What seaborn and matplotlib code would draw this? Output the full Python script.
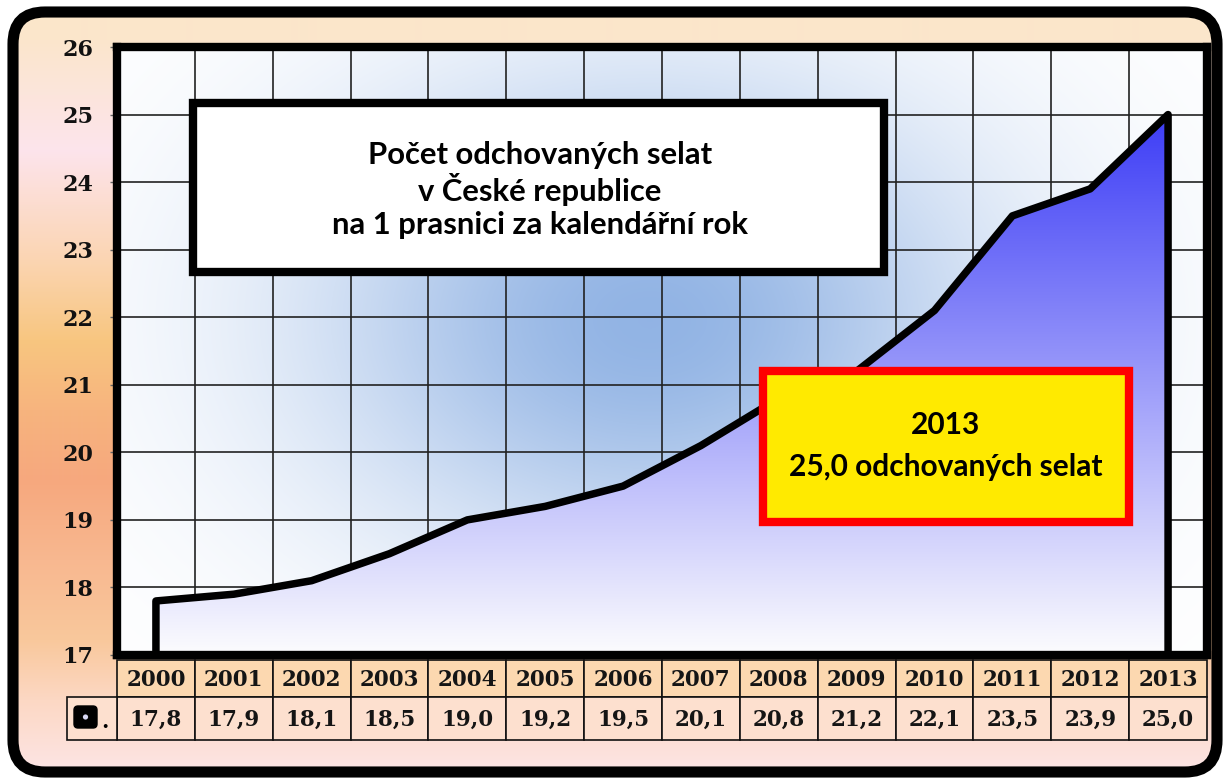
import numpy as np
import matplotlib
matplotlib.use("Agg")
import matplotlib.pyplot as plt
import seaborn as sns
from matplotlib.patches import Rectangle, FancyBboxPatch, Circle
from matplotlib.colors import to_rgb

# ---------------- data ----------------
years = [2000, 2001, 2002, 2003, 2004, 2005, 2006, 2007, 2008, 2009, 2010, 2011, 2012, 2013]
values = [17.8, 17.9, 18.1, 18.5, 19.0, 19.2, 19.5, 20.1, 20.8, 21.2, 22.1, 23.5, 23.9, 25.0]
y_ticks = [17, 18, 19, 20, 21, 22, 23, 24, 25, 26]
title_lines = ["Počet odchovaných selat", "v České republice", "na 1 prasnici za kalendářní rok"]
highlight_unit = "odchovaných selat"

def fmt(v):
    return f"{v:.1f}".replace(".", ",")

W, H = 1223, 778
fig = plt.figure(figsize=(W / 100, H / 100), dpi=100)
fig.patch.set_facecolor("white")

SERIF = "DejaVu Serif"
SANS = "Lato"

# ---------------- background (rounded frame with gradient) ----------------
bg = fig.add_axes([0, 0, 1, 1], zorder=0)
bg.set_xlim(0, W)
bg.set_ylim(H, 0)
bg.axis("off")

stops_y = [0, 40, 150, 260, 340, 410, 480, 560, 640, 700, 778]
stops_c = ["#fbe6c8", "#fbe6cc", "#fde4ec", "#fbd5b2", "#f8c680", "#f7b47e", "#f6a87e",
           "#f8b890", "#f9c89c", "#fcd8c4", "#fde6e8"]
yy = np.arange(H)
cols = np.array([to_rgb(c) for c in stops_c])
grad = np.stack([np.interp(yy, stops_y, cols[:, k]) for k in range(3)], axis=-1)
grad = np.repeat(grad[:, None, :], 2, axis=1)

frame = FancyBboxPatch((13, 12), 1204, 760, boxstyle="round,pad=0,rounding_size=32",
                       facecolor="none", edgecolor="black", linewidth=8, zorder=3)
bg.add_patch(frame)
im = bg.imshow(grad, extent=(0, W, H, 0), aspect="auto", interpolation="bilinear", zorder=1)
im.set_clip_path(frame)

# ---------------- main plot ----------------
L, R, T, B = 117, 1207, 47, 655
ax = fig.add_axes([L / W, 1 - B / H, (R - L) / W, (B - T) / H], zorder=2)
n = len(years)
x_idx = list(range(n))
ax.set_xlim(-0.5, n - 0.5)
ax.set_ylim(y_ticks[0], y_ticks[-1])

# soft blue blob background
gx = np.linspace(-0.5, n - 0.5, 500)
gy = np.linspace(y_ticks[0], y_ticks[-1], 400)
GX, GY = np.meshgrid(gx, gy)
PX = L + (GX + 0.5) / n * (R - L)
PY = B - (GY - y_ticks[0]) / (y_ticks[-1] - y_ticks[0]) * (B - T)
w = 0.95 * np.exp(-((PX - 650) / 340) ** 2 - ((PY - 320) / 240) ** 2)
blue = np.array([0.55, 0.69, 0.89])
blob = (1 - w[..., None]) * 1.0 + w[..., None] * blue
ax.imshow(blob, extent=(-0.5, n - 0.5, y_ticks[0], y_ticks[-1]), origin="lower",
          aspect="auto", zorder=0.5, interpolation="bilinear")

# grid
ax.set_xticks(np.arange(-0.5, n, 1.0))
ax.set_yticks(y_ticks)
ax.grid(True, color="#222222", linewidth=1.2, zorder=1.5)
ax.tick_params(axis="x", length=0, labelbottom=False)
ax.tick_params(axis="y", direction="out", length=5, width=1, color="#666666", pad=12,
               labelsize=16)
for lab in ax.get_yticklabels():
    lab.set_fontfamily(SERIF)
    lab.set_fontweight("bold")
    lab.set_color("#111111")

# gradient area under the line
poly = ax.fill_between(x_idx, values, y_ticks[0], color="none", linewidth=0)
t = np.clip((gy - y_ticks[0]) / 8.0, 0, 1)
area = np.zeros((len(gy), 2, 3))
area[:, :, 0] = (0.99 - 0.75 * t)[:, None]
area[:, :, 1] = (0.99 - 0.75 * t)[:, None]
area[:, :, 2] = (0.995 - 0.03 * t)[:, None]
aim = ax.imshow(area, extent=(-0.5, n - 0.5, y_ticks[0], y_ticks[-1]), origin="lower",
                aspect="auto", zorder=2, interpolation="bilinear")
aim.set_clip_path(poly.get_paths()[0], ax.transData)

# black outline line (drop at both ends)
xs_line = [x_idx[0]] + x_idx + [x_idx[-1]]
ys_line = [y_ticks[0]] + values + [y_ticks[0]]
sns.lineplot(x=xs_line, y=ys_line, sort=False, estimator=None, color="black",
             linewidth=5.4, ax=ax, zorder=3)
for ln in ax.lines:
    ln.set_solid_joinstyle("round")
    ln.set_solid_capstyle("butt")
ax.set_xlabel("")
ax.set_ylabel("")

for sp in ax.spines.values():
    sp.set_linewidth(6)
    sp.set_color("black")
    sp.set_zorder(4)

# ---------------- overlay (boxes + table) ----------------
ov = fig.add_axes([0, 0, 1, 1], zorder=5)
ov.set_xlim(0, W)
ov.set_ylim(H, 0)
ov.axis("off")
ov.patch.set_alpha(0)

renderer = fig.canvas.get_renderer()

def fit_size(texts, target_w, start=20):
    sizes = []
    for tx in texts:
        tx.set_fontsize(start)
        bb = tx.get_window_extent(renderer)
        sizes.append(start * target_w / bb.width)
    return sizes

# title box
ov.add_patch(Rectangle((193, 103), 691, 169, facecolor="white", edgecolor="black",
                       linewidth=6, zorder=1))
title_y = [155, 189, 225]
tts = [ov.text(540, yv, s, ha="center", va="center", fontfamily=SANS, fontweight="bold",
               color="black", zorder=2) for s, yv in zip(title_lines, title_y)]
sz = fit_size([tts[2]], 416)[0]
for tx in tts:
    tx.set_fontsize(sz)

# highlight box
ov.add_patch(Rectangle((766, 374), 366, 151, facecolor="#000000", alpha=0.12,
                       edgecolor="none", zorder=1))
ov.add_patch(Rectangle((763, 371), 366, 151, facecolor="#ffea00", edgecolor="#ff0000",
                       linewidth=6, zorder=2))
h1 = ov.text(946, 425, str(years[-1]), ha="center", va="center", fontfamily=SANS,
             fontweight="bold", zorder=3)
h2 = ov.text(946, 467, f"{fmt(values[-1])} {highlight_unit}", ha="center", va="center",
             fontfamily=SANS, fontweight="bold", zorder=3)
hs = fit_size([h2], 313)[0]
h1.set_fontsize(hs)
h2.set_fontsize(hs)

# data table
cw = (R - L) / n
r1_top, r1_bot, r2_bot = 660, 697, 740
for i, (yr, v) in enumerate(zip(years, values)):
    x0 = L + i * cw
    ov.add_patch(Rectangle((x0, r1_top), cw, r1_bot - r1_top, facecolor="#fcd8b0",
                           edgecolor="#111111", linewidth=1.2, zorder=1))
    ov.add_patch(Rectangle((x0, r1_bot), cw, r2_bot - r1_bot, facecolor="#fde0cf",
                           edgecolor="#111111", linewidth=1.2, zorder=1))
    ov.text(x0 + cw / 2, (r1_top + r1_bot) / 2 + 1, str(yr), ha="center", va="center",
            fontfamily=SERIF, fontweight="bold", fontsize=15.5, color="#151515", zorder=2)
    ov.text(x0 + cw / 2, (r1_bot + r2_bot) / 2 + 1, fmt(v), ha="center", va="center",
            fontfamily=SERIF, fontweight="bold", fontsize=15.5, color="#151515", zorder=2)

# legend cell
ov.add_patch(Rectangle((67, r1_bot), L - 67, r2_bot - r1_bot, facecolor="#fde0cf",
                       edgecolor="#111111", linewidth=1.2, zorder=1))
ov.add_patch(FancyBboxPatch((74, 706), 23, 22, boxstyle="round,pad=0,rounding_size=4",
                            facecolor="black", edgecolor="black", zorder=2))
ov.add_patch(Circle((85.5, 717), 2.6, facecolor="#d8d8f4", edgecolor="none", zorder=3))
ov.text(101, 722, ".", ha="left", va="center", fontfamily=SERIF, fontweight="bold",
        fontsize=15, color="black", zorder=2)

fig.savefig("out.png", dpi=100, facecolor="white")
